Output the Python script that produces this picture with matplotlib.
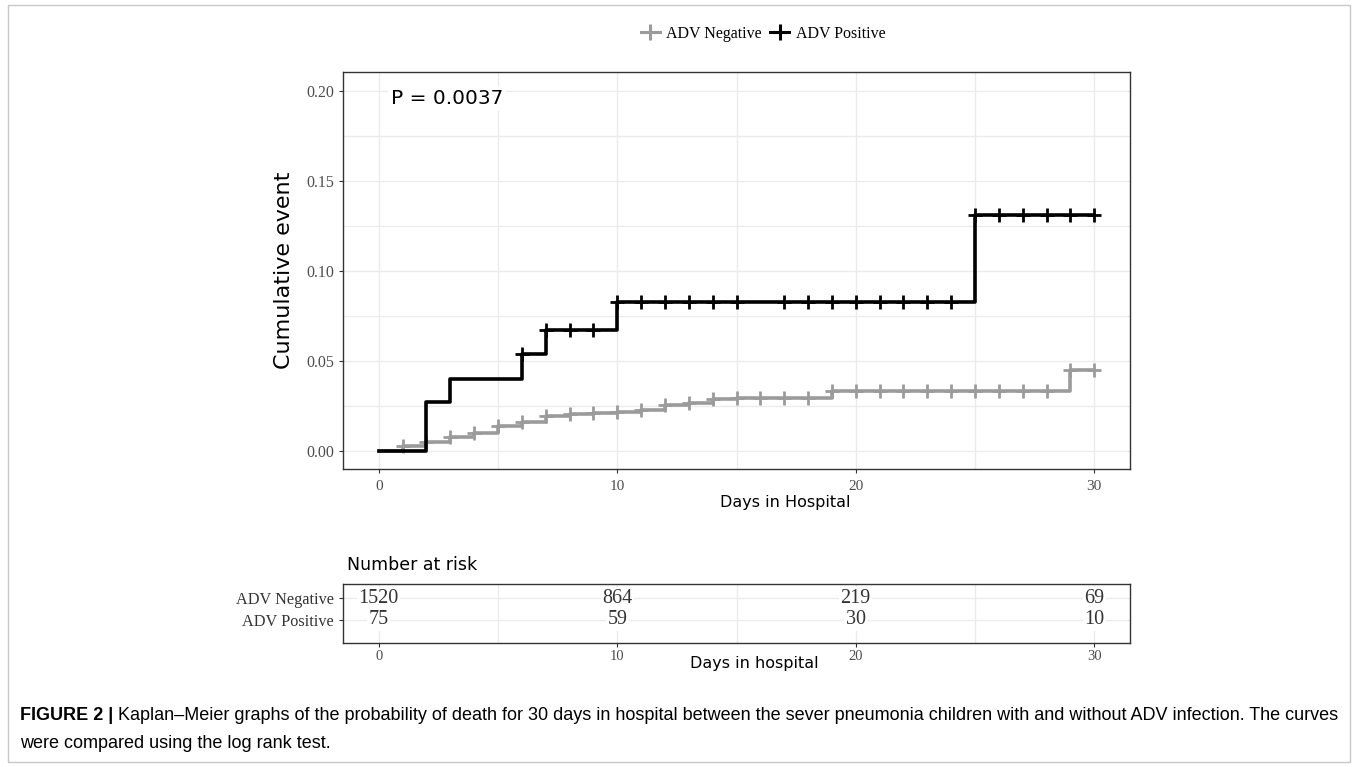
import numpy as np
import matplotlib
matplotlib.use("Agg")
import matplotlib.pyplot as plt
from matplotlib.patches import Rectangle
from matplotlib.transforms import offset_copy

# Kaplan-Meier cumulative event (step values after each event time)
pos_times = [0, 2, 3, 6, 7, 10, 25, 30]
pos_values = [0.0, 0.027, 0.040, 0.054, 0.067, 0.083, 0.131, 0.131]
pos_censor = [6, 7, 8, 9, 10, 11, 12, 13, 14, 15, 17, 18, 19, 20, 21, 22, 23, 24,
              25, 26, 27, 28, 29, 30]

neg_times = list(range(0, 31))
neg_values = [0.0, 0.0027, 0.005, 0.008, 0.010, 0.014, 0.016, 0.0195, 0.0205, 0.021,
              0.0215, 0.023, 0.0253, 0.0268, 0.0289, 0.0296, 0.0296, 0.0296, 0.0296,
              0.0333, 0.0333, 0.0333, 0.0333, 0.0333, 0.0333, 0.0333, 0.0333, 0.0333,
              0.0333, 0.045, 0.045]
neg_censor = list(range(1, 31))

groups = ["ADV Negative", "ADV Positive"]
risk_days = [0, 10, 20, 30]
risk_neg = [1520, 864, 219, 69]
risk_pos = [75, 59, 30, 10]
p_text = "P = 0.0037"

GRAY = "#9b9b9b"
BLACK = "#000000"
GRID = "#ebebeb"
SERIF = ["Liberation Serif", "DejaVu Serif"]
SANS = ["DejaVu Sans"]
CAP = ["Liberation Sans", "DejaVu Sans"]


def step_at(times, values, t):
    i = np.searchsorted(times, t, side="right") - 1
    return values[i]


fig = plt.figure(figsize=(13.58, 7.67), dpi=100)

# outer frame
fig.patches.append(Rectangle((8 / 1358, 5 / 767), 1342 / 1358, 757 / 767,
                             transform=fig.transFigure, fill=False,
                             edgecolor="#c8c8c8", linewidth=1.0))

ax = fig.add_axes([343 / 1358, 1 - 469 / 767, 787 / 1358, 397 / 767])
ax.set_xlim(-1.5, 31.5)
ax.set_ylim(-0.01, 0.2106)
ax.set_xticks([0, 10, 20, 30])
ax.set_xticks([5, 15, 25], minor=True)
ax.set_yticks([0, 0.05, 0.10, 0.15, 0.20])
ax.set_yticks([0.025, 0.075, 0.125, 0.175], minor=True)
ax.set_yticklabels(["0.00", "0.05", "0.10", "0.15", "0.20"], family=SERIF, fontsize=11.5,
                   color="#4d4d4d")
ax.set_xticklabels(["0", "10", "20", "30"], family=SERIF, fontsize=11, color="#4d4d4d")
ax.grid(True, which="both", color=GRID, linewidth=1.0)
ax.set_axisbelow(True)
ax.tick_params(which="major", length=3, color="#333333", width=0.8)
ax.tick_params(axis="x", which="major", pad=5)
ax.tick_params(which="minor", length=0)
for s in ax.spines.values():
    s.set_color("#333333")
    s.set_linewidth(1.0)

ax.step(neg_times, neg_values, where="post", color=GRAY, linewidth=2.6, zorder=3)
ax.step(pos_times, pos_values, where="post", color=BLACK, linewidth=2.6, zorder=4)
ax.plot(neg_censor, [step_at(neg_times, neg_values, t) for t in neg_censor],
        linestyle="none", marker="+", markersize=10, markeredgewidth=2.0,
        color=GRAY, zorder=3)
ax.plot(pos_censor, [step_at(pos_times, pos_values, t) for t in pos_censor],
        linestyle="none", marker="+", markersize=10, markeredgewidth=2.0,
        color=BLACK, zorder=4)

ax.text(0.5, 0.196, p_text, fontsize=14.5, family=SANS, va="center", ha="left",
        zorder=5, bbox=dict(facecolor="white", edgecolor="none", pad=2))
ax.set_ylabel("Cumulative event", fontsize=16, family=SANS, labelpad=9)
ax.set_xlabel("Days in Hospital", fontsize=11.5, family=SANS, labelpad=2)
ax.xaxis.set_label_coords(0.562, -0.065)

# legend on top
h_neg, = ax.plot([], [], color=GRAY, marker="+", markersize=12, markeredgewidth=2.2,
                 linewidth=2.2)
h_pos, = ax.plot([], [], color=BLACK, marker="+", markersize=12, markeredgewidth=2.2,
                 linewidth=2.2)
fig.legend([h_neg, h_pos], groups, loc="center", bbox_to_anchor=(763 / 1358, 1 - 34 / 767),
           ncol=2, frameon=False, prop={"family": SERIF, "size": 11.5},
           handlelength=1.2, handletextpad=0.4, columnspacing=0.5)

# number at risk table
rt = fig.add_axes([343 / 1358, 1 - 643 / 767, 787 / 1358, 59 / 767])
rt.set_xlim(-1.5, 31.5)
rt.set_ylim(-0.05, 2.64)
rt.set_yticks([2, 1])
rt.set_yticklabels(groups, family=SERIF, fontsize=11.7, color="#333333")
rt.set_xticks([0, 10, 20, 30])
rt.set_xticks([5, 15, 25], minor=True)
rt.set_xticklabels(["0", "10", "20", "30"], family=SERIF, fontsize=10.5, color="#4d4d4d")
rt.grid(True, which="both", color=GRID, linewidth=1.0)
rt.set_axisbelow(True)
rt.tick_params(which="major", length=3, color="#333333", width=0.8)
rt.tick_params(axis="x", which="major", pad=2)
rt.tick_params(which="minor", length=0)
for s in rt.spines.values():
    s.set_color("#333333")
    s.set_linewidth(1.0)
for d, n in zip(risk_days, risk_neg):
    rt.text(d, 2, str(n), ha="center", va="center", family=SERIF, fontsize=14.5,
            color="#333333", bbox=dict(facecolor="white", edgecolor="none", pad=1))
for d, n in zip(risk_days, risk_pos):
    rt.text(d, 1, str(n), ha="center", va="center", family=SERIF, fontsize=14.5,
            color="#333333", bbox=dict(facecolor="white", edgecolor="none", pad=1))
rt.set_xlabel("Days in hospital", fontsize=11.5, family=SANS, labelpad=-3)
rt.xaxis.set_label_coords(0.523, -0.22)
rt.set_title("Number at risk", loc="left", fontsize=12.5, family=SANS, pad=10, x=0.005)

# caption
bold = fig.text(20 / 1358, 1 - 716 / 767, "FIGURE 2 |", fontsize=13, family=CAP,
                weight="bold", va="center", ha="left")
fig.canvas.draw()
w = bold.get_window_extent().width
fig.text(20 / 1358, 1 - 716 / 767,
         "Kaplan–Meier graphs of the probability of death for 30 days in hospital between "
         "the sever pneumonia children with and without ADV infection. The curves",
         fontsize=13, family=CAP, va="center", ha="left",
         transform=offset_copy(fig.transFigure, fig=fig, x=w + 5, y=0, units="dots"))
fig.text(20 / 1358, 1 - 743 / 767, "were compared using the log rank test.",
         fontsize=13, family=CAP, va="center", ha="left")

fig.savefig("out.png", dpi=100)
